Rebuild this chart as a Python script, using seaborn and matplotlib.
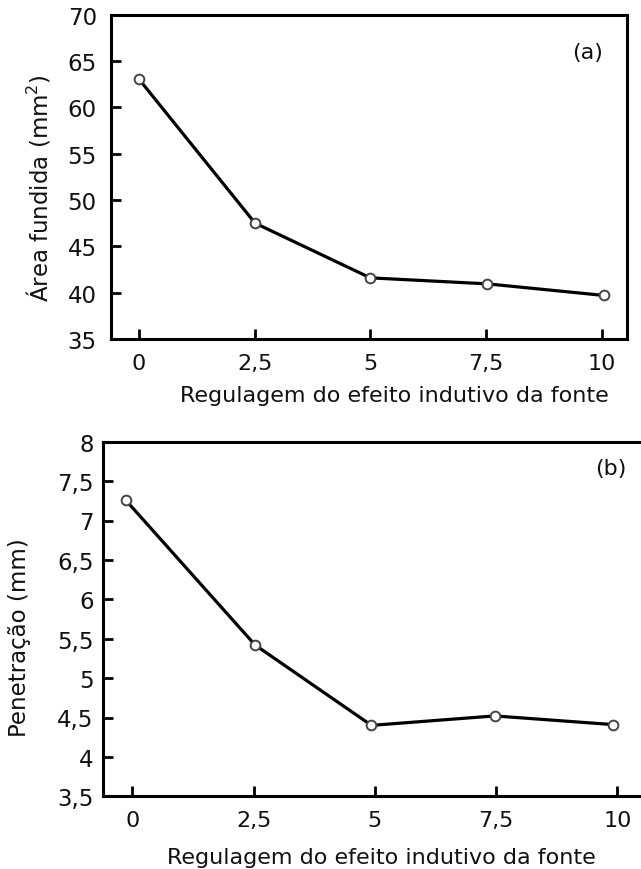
import matplotlib
matplotlib.use("Agg")
import matplotlib.pyplot as plt
import seaborn as sns
import pandas as pd

# Data
x_a = [0.0, 2.51, 5.0, 7.53, 10.05]
area = [63.05, 47.5, 41.6, 40.95, 39.7]
x_b = [-0.14, 2.53, 4.93, 7.47, 9.91]
penetracao = [7.26, 5.42, 4.40, 4.52, 4.41]

xticks = [0, 2.5, 5, 7.5, 10]
xticklabels = ["0", "2,5", "5", "7,5", "10"]
yticks_a = [35, 40, 45, 50, 55, 60, 65, 70]
yticklabels_a = ["35", "40", "45", "50", "55", "60", "65", "70"]
yticks_b = [3.5, 4, 4.5, 5, 5.5, 6, 6.5, 7, 7.5, 8]
yticklabels_b = ["3,5", "4", "4,5", "5", "5,5", "6", "6,5", "7", "7,5", "8"]

xlabel = "Regulagem do efeito indutivo da fonte"
ylabel_a = "Área fundida (mm$^2$)"
ylabel_b = "Penetração (mm)"

sns.set_style("white")
plt.rcParams["font.family"] = ["DejaVu Sans"]
plt.rcParams["mathtext.default"] = "regular"

W, H = 641, 870
fig = plt.figure(figsize=(W / 100, H / 100), dpi=100)

# axes positions in pixels (left, top, right, bottom)
def px_axes(l, t, r, b):
    return fig.add_axes([l / W, 1 - b / H, (r - l) / W, (b - t) / H])

ax1 = px_axes(110.7, 15.7, 626.7, 340.0)
ax2 = px_axes(103.3, 442.7, 645.0, 797.3)

df_a = pd.DataFrame({"x": x_a, "y": area})
df_b = pd.DataFrame({"x": x_b, "y": penetracao})

line_kw = dict(color="black", linewidth=2.3, marker="o", markersize=7,
               markerfacecolor="white", markeredgecolor="#444444",
               markeredgewidth=1.4, sort=False)
sns.lineplot(data=df_a, x="x", y="y", ax=ax1, **line_kw)
sns.lineplot(data=df_b, x="x", y="y", ax=ax2, **line_kw)

ax1.set_xlim(-0.61, 10.54)
ax1.set_ylim(35, 70)
ax2.set_xlim(-0.60, 10.57)
ax2.set_ylim(3.5, 8)

for ax, yt, ytl, ypad in [(ax1, yticks_a, yticklabels_a, 10),
                          (ax2, yticks_b, yticklabels_b, 7)]:
    ax.set_xticks(xticks)
    ax.set_xticklabels(xticklabels)
    ax.set_yticks(yt)
    ax.set_yticklabels(ytl)
    for s in ax.spines.values():
        s.set_linewidth(2.2)
        s.set_color("black")
        s.set_visible(True)
    ax.tick_params(axis="both", direction="in", length=7, width=2.0,
                   color="black", labelcolor="#111111",
                   bottom=True, left=True, top=False, right=False)
    ax.tick_params(axis="x", pad=10, labelsize=16)
    ax.tick_params(axis="y", pad=ypad, labelsize=16.5)
    ax.set_xlabel(xlabel, fontsize=16, color="#111111")

ax1.set_ylabel(ylabel_a, fontsize=16.5, color="#111111")
ax2.set_ylabel(ylabel_b, fontsize=16.5, color="#111111")

ax1.xaxis.set_label_coords(0.55, -0.173)
ax1.xaxis.label.set_va("center")
ax2.xaxis.set_label_coords(0.513, -0.171)
ax2.xaxis.label.set_va("center")
ax1.yaxis.set_label_coords(-0.139, 0.469)
ax1.yaxis.label.set_va("center")
ax2.yaxis.set_label_coords(-0.154, 0.449)
ax2.yaxis.label.set_va("center")

ax1.text(0.924, 0.885, "(a)", transform=ax1.transAxes, ha="center",
         va="center", fontsize=16, color="#111111")
ax2.text(0.937, 0.926, "(b)", transform=ax2.transAxes, ha="center",
         va="center", fontsize=16, color="#111111")

fig.savefig("out.png", dpi=100)
